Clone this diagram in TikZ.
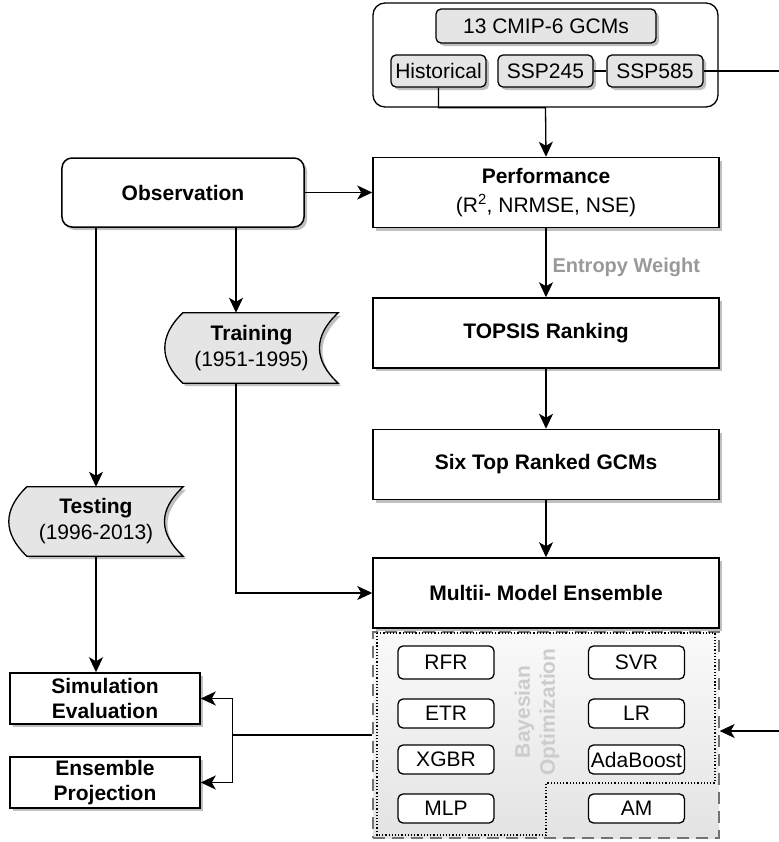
\documentclass[tikz,border=0pt]{standalone}
\usepackage{fontspec}
\setmainfont{Liberation Sans}
\usetikzlibrary{arrows.meta,shadows,backgrounds}

% tape shape for the data sets, drawn under the named node
\newcommand{\storeshape}[1]{%
  \begin{pgfonlayer}{background}
    \filldraw[store] ([xshift=18bp]#1.north west) -- (#1.north east)
      .. controls ([xshift=-25bp, yshift=-23bp]#1.north east)
         and ([xshift=-25bp, yshift=23bp]#1.south east) .. (#1.south east)
      -- ([xshift=18bp]#1.south west)
      .. controls ([xshift=-6bp, yshift=23bp]#1.south west)
         and ([xshift=-6bp, yshift=-23bp]#1.north west)
      .. ([xshift=18bp]#1.north west) -- cycle;
  \end{pgfonlayer}}

\begin{document}
\begin{tikzpicture}[x=1bp, y=-1bp,
  every node/.style={font=\fontsize{21bp}{26bp}\selectfont},
  boxshadow/.style={drop shadow={shadow xshift=3bp, shadow yshift=-3bp, fill=black!25, opacity=1}},
  arr/.style={-{Stealth[length=15bp, width=14bp, inset=4bp]}, line width=1.3bp},
  wire/.style={line width=1.3bp},
  box/.style={draw, line width=1.5bp, fill=white, minimum width=346bp, minimum height=70bp,
    inner sep=0pt, align=center, boxshadow},
  gbox/.style={draw, line width=1.3bp, fill=black!10, rounded corners=5bp, minimum height=32bp,
    inner sep=0pt, boxshadow},
  store/.style={line width=1.3bp, fill=black!10, boxshadow},
  mbox/.style={draw, line width=1.3bp, fill=white, rounded corners=5bp, minimum width=96bp,
    minimum height=29bp, inner sep=0pt},
  outbox/.style={draw, line width=1.5bp, fill=white, minimum width=190bp, minimum height=51bp,
    inner sep=0pt, align=center, font=\bfseries\fontsize{21bp}{25bp}\selectfont, boxshadow}]
  \useasboundingbox (0,0) rectangle (779,842);

  % GCM group
  \node[draw, line width=1.3bp, rounded corners=12bp, minimum width=345bp, minimum height=104bp]
    (gcm) at (545.5,55) {};
  \node[gbox, minimum width=220bp, minimum height=34bp] (cmip) at (546,26) {13 CMIP-6 GCMs};
  \node[gbox, minimum width=95bp] (hist) at (438.5,71) {Historical};
  \node[gbox, minimum width=95bp] (ssp245) at (545.5,71) {SSP245};
  \node[gbox, minimum width=96bp] (ssp585) at (655,71) {SSP585};
  \draw[wire] (ssp245) -- (ssp585);

  % Main column
  \node[box] (perf) at (546,192.5) {\textbf{Performance}\\[3bp](R\textsuperscript{2}, NRMSE, NSE)};
  \node[box] (topsis) at (546,333) {\textbf{TOPSIS Ranking}};
  \node[box] (six) at (546,464.5) {\textbf{Six Top Ranked GCMs}};

  % Observation and data sets
  \node[draw, line width=1.5bp, fill=white, rounded corners=10bp, minimum width=242bp,
    minimum height=69bp, boxshadow] (obs) at (183,192.5) {\textbf{Observation}};
  \node[minimum width=173bp, minimum height=70bp, inner sep=0pt, align=center]
    (train) at (251.5,348) {\textbf{Training}\\(1951-1995)};
  \storeshape{train}
  \node[minimum width=174bp, minimum height=69bp, inner sep=0pt, align=center]
    (test) at (96,521.5) {\textbf{Testing}\\(1996-2013)};
  \storeshape{test}

  % Ensemble models
  \node[draw=black!55, line width=1.3bp, dash pattern=on 12bp off 7bp, top color=black!2,
    bottom color=black!11, minimum width=346bp, minimum height=206bp] (bo) at (546,735) {};
  \node[box] (ens) at (546,593) {\textbf{Multii- Model Ensemble}};
  \draw[line width=1.2bp, dotted] (377,633) -- (715,633) -- (715,783) -- (546,783)
    -- (546,835) -- (377,835) -- cycle;
  \node[rotate=90, align=center, text=black!20, font=\bfseries\fontsize{21bp}{25bp}\selectfont]
    (bayes) at (537,712) {Bayesian\\Optimization};
  \node[mbox, minimum height=33bp] (rfr) at (446,662.5) {RFR};
  \node[mbox, minimum height=33bp] (svr) at (636.5,662.5) {SVR};
  \node[mbox] (etr) at (446,713.5) {ETR};
  \node[mbox] (lr) at (636.5,713.5) {LR};
  \node[mbox] (xgbr) at (446,759.5) {XGBR};
  \node[mbox, inner xsep=1bp] (ada) at (636.5,759.5) {AdaBoost};
  \node[mbox] (mlp) at (446,808.5) {MLP};
  \node[mbox] (am) at (636.5,808.5) {AM};

  % Outputs
  \node[outbox] (sim) at (105,698.5) {Simulation\\Evaluation};
  \node[outbox] (proj) at (105,782.5) {Ensemble\\Projection};

  % Connectors
  \draw[arr] (hist.south) -- (hist.south |- gcm.south) -- (gcm.south) -- (perf.north);
  \draw[arr] (obs.east) -- (perf.west);
  \draw[arr] (perf) -- (topsis);
  \node[anchor=west, text=black!40, font=\bfseries\fontsize{20bp}{24bp}\selectfont]
    (ew) at (549,267) {Entropy Weight};
  \draw[arr] (topsis) -- (six);
  \draw[arr] (six) -- (ens);
  \draw[arr] ([xshift=53bp]obs.south) -- ([xshift=53bp]obs.south |- train.north);
  \draw[arr] ([xshift=53bp]obs.south |- train.south) |- (ens.west);
  \draw[arr] (obs.south -| test.north) -- (test.north);
  \draw[arr] (test.south) -- (test.south |- sim.north);
  \draw[wire] (bo.west) -- ++(-140,0) coordinate (split);
  \draw[arr] (split) |- (sim.east);
  \draw[arr] (split) |- (proj.east);
  \coordinate (rim) at (782,71);
  \draw[arr] (ssp585.east) -- (rim) |- ([yshift=4bp]bo.east);
\end{tikzpicture}
\end{document}
